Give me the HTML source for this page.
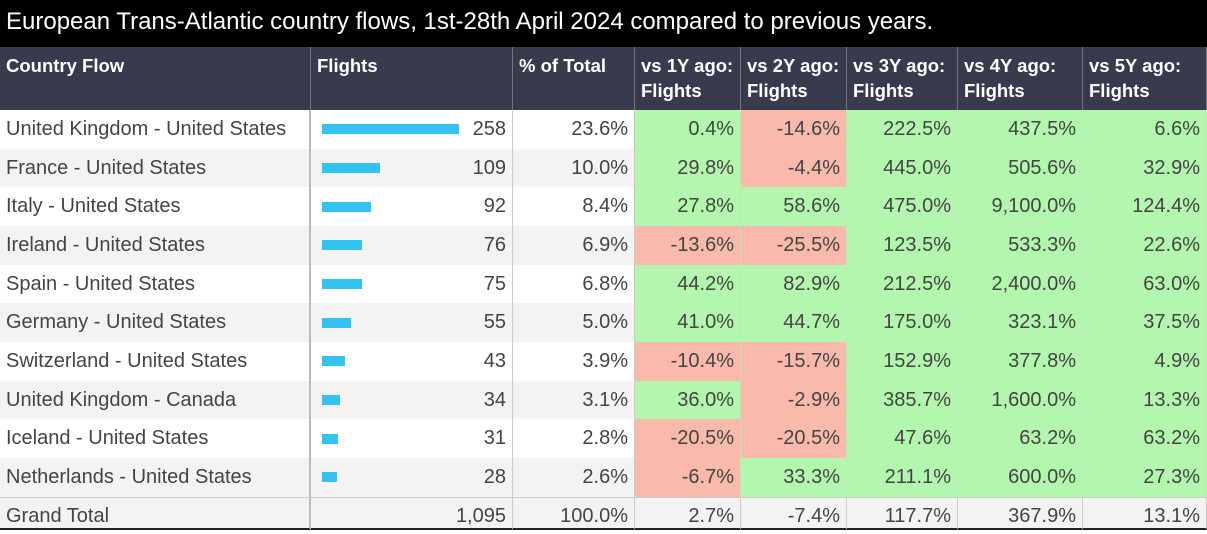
<!DOCTYPE html>
<html><head><meta charset="utf-8"><style>
body{margin:0;width:1207px;height:530px;overflow:hidden;background:#fff;font-family:"Liberation Sans",sans-serif}
#title{position:absolute;left:0;top:0;width:1207px;height:47px;background:#000;color:#fff;font-size:24px;line-height:44px;padding-left:6px;box-sizing:border-box}
.c{position:absolute;box-sizing:border-box;font-size:20px;color:#444;white-space:nowrap}
.h{background:#383a4e;color:#fff;font-weight:bold;font-size:18.5px;line-height:25px;padding:6px 6px;border-right:1px solid #777}
</style></head><body>
<div id="title">European Trans-Atlantic country flows, 1st-28th April 2024 compared to previous years.</div>
<div id="t"></div>
<script>
const countries=["United Kingdom - United States","France - United States","Italy - United States","Ireland - United States","Spain - United States","Germany - United States","Switzerland - United States","United Kingdom - Canada","Iceland - United States","Netherlands - United States"];
const flights=[258,109,92,76,75,55,43,34,31,28];
const pct=[23.6,10.0,8.4,6.9,6.8,5.0,3.9,3.1,2.8,2.6];
const vs1=[0.4,29.8,27.8,-13.6,44.2,41.0,-10.4,36.0,-20.5,-6.7];
const vs2=[-14.6,-4.4,58.6,-25.5,82.9,44.7,-15.7,-2.9,-20.5,33.3];
const vs3=[222.5,445.0,475.0,123.5,212.5,175.0,152.9,385.7,47.6,211.1];
const vs4=[437.5,505.6,9100.0,533.3,2400.0,323.1,377.8,1600.0,63.2,600.0];
const vs5=[6.6,32.9,124.4,22.6,63.0,37.5,4.9,13.3,63.2,27.3];
const totals=["1,095","100.0%","2.7%","-7.4%","117.7%","367.9%","13.1%"];
const headers=["Country Flow","Flights","% of Total","vs 1Y ago:<br>Flights","vs 2Y ago:<br>Flights","vs 3Y ago:<br>Flights","vs 4Y ago:<br>Flights","vs 5Y ago:<br>Flights"];
const colX=[0,311,513,635,741,847,958,1083,1207];
const t=document.getElementById('t');
const fmt=v=>v.toLocaleString('en-US',{minimumFractionDigits:1,maximumFractionDigits:1})+'%';
function cell(x,y,w,h,html,style){const d=document.createElement('div');d.className='c';d.style.cssText=`left:${x}px;top:${y}px;width:${w}px;height:${h}px;`+style;d.innerHTML=html;t.appendChild(d);return d;}
headers.forEach((hd,i)=>{const d=cell(colX[i],47,colX[i+1]-colX[i],63,hd,'');d.classList.add('h');

});
const top0=110,rh=38.67;
const vs=[vs1,vs2,vs3,vs4,vs5];
countries.forEach((c,r)=>{const y=top0+r*rh;const bg=r%2?'#f3f3f3':'#fff';
const base=`line-height:${rh}px;background:${bg};border-right:1px solid #ccc;`;
let d=cell(0,y,311,rh,c,base+'padding-left:6px;border-right:2px solid #bbb');


d=cell(311,y,202,rh,flights[r],base+'text-align:right;padding-right:6px');


const b=document.createElement('div');b.style.cssText=`position:absolute;left:11px;top:${rh/2-5}px;height:10px;width:${flights[r]/258*137}px;background:#33c3f0`;


d.appendChild(b);
d=cell(513,y,122,rh,fmt(pct[r]),base+'text-align:right;padding-right:6px');


vs.forEach((arr,k)=>{const v=arr[r];const col=v<0?'#f9b9ab':'#b2f7ad';
const e=cell(colX[3+k],y,colX[4+k]-colX[3+k],rh,fmt(v),`line-height:${rh}px;background:${col};text-align:right;padding-right:6px;border-right:1px solid #bde8b8`);

});
});
const gy=top0+10*rh;
let g=cell(0,gy,311,530-gy,'Grand Total',`line-height:36px;background:#f3f3f3;padding-left:6px;border-top:1px solid #ccc;border-right:2px solid #bbb;border-bottom:2px solid #222`);


totals.forEach((v,i)=>{const e=cell(colX[i+1],gy,colX[i+2]-colX[i+1],530-gy,v,`line-height:36px;background:#f3f3f3;text-align:right;padding-right:6px;border-top:1px solid #ccc;border-right:1px solid #ccc;border-bottom:2px solid #222`);

});
</script>
</body></html>
